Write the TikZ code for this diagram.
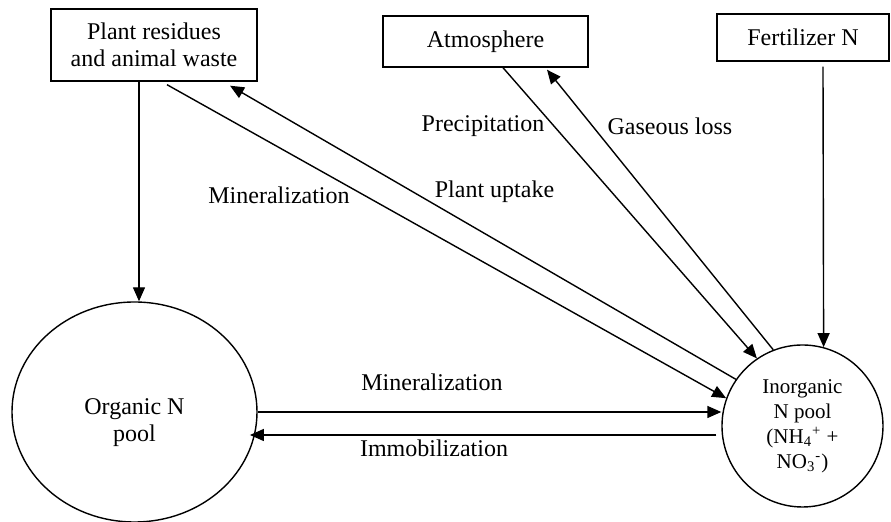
\documentclass[tikz,border=0pt]{standalone}
\usepackage{fontspec}
\setmainfont{Liberation Serif}
\usetikzlibrary{arrows.meta,calc,shapes.geometric}
\begin{document}
\begin{tikzpicture}[x=0.5pt,y=-0.5pt,
 box/.style={draw,line width=0.7pt,inner sep=0pt,align=center,font=\fontsize{12}{13.5}\selectfont},
 pool/.style={draw,ellipse,line width=0.7pt,inner sep=0pt,align=center},
 arr/.style={line width=0.7pt,-{Triangle[length=7pt,width=6pt]}},
 lbl/.style={font=\fontsize{12}{14}\selectfont,inner sep=0pt}]
\useasboundingbox (0,0) rectangle (891,522);

\node[box,minimum width=103pt,minimum height=36pt] (plant) at (154,45) {Plant residues\\and animal waste};
\node[box,minimum width=102.5pt,minimum height=25.5pt] (atm) at (485.5,41.5) {Atmosphere};
\node[box,minimum width=86pt,minimum height=23.5pt] (fert) at (803,37.5) {Fertilizer N};

\node[pool,minimum width=122.5pt,minimum height=110pt] (org) at (134.5,412) {};
\node[align=center,inner sep=0pt,font=\fontsize{12}{13.5}\selectfont] (orgtext) at (134.5,423) {Organic N\\pool};
\node[pool,minimum width=80.5pt,minimum height=81pt,font=\fontsize{10.5}{12.5}\selectfont] (inorg) at (802.5,426)
 {Inorganic\\N pool\\(NH\textsubscript{4}\textsuperscript{+} +\\NO\textsubscript{3}\textsuperscript{-})};

\draw[arr] ([xshift=-7.5pt]plant.south) -- ([xshift=-7.5pt]plant.south |- org.north);
\draw[arr] ([xshift=10pt,yshift=-2.5pt]fert.south) -- (inorg.75.8);
\draw[arr] ([xshift=6.5pt,yshift=-1.5pt]plant.south) -- (inorg.160.8);
\draw[arr] (inorg.145.7) -- ([xshift=38pt,yshift=-2pt]plant.south);
\draw[arr] ([xshift=8.75pt]atm.south) -- (inorg.124.8);
\draw[arr] (inorg.111) -- ([xshift=30.75pt,yshift=-1pt]atm.south);
\draw[arr] (org.east) -- (org.east -| inorg.west);
\draw[arr] ([xshift=-2.5pt,yshift=-4.5pt]inorg.west) -- ([xshift=-2.5pt,yshift=-4.5pt]inorg.west -| org.-11);

\node[lbl] (lprec) at (483,126) {Precipitation};
\node[lbl] (lgas) at (670,126) {Gaseous loss};
\node[lbl] (lupt) at (494.5,192) {Plant uptake};
\node[lbl] (lmin1) at (279,195) {Mineralization};
\node[lbl] (lmin2) at (432,382) {Mineralization};
\node[lbl] (limm) at (434,448) {Immobilization};
\end{tikzpicture}
\end{document}
